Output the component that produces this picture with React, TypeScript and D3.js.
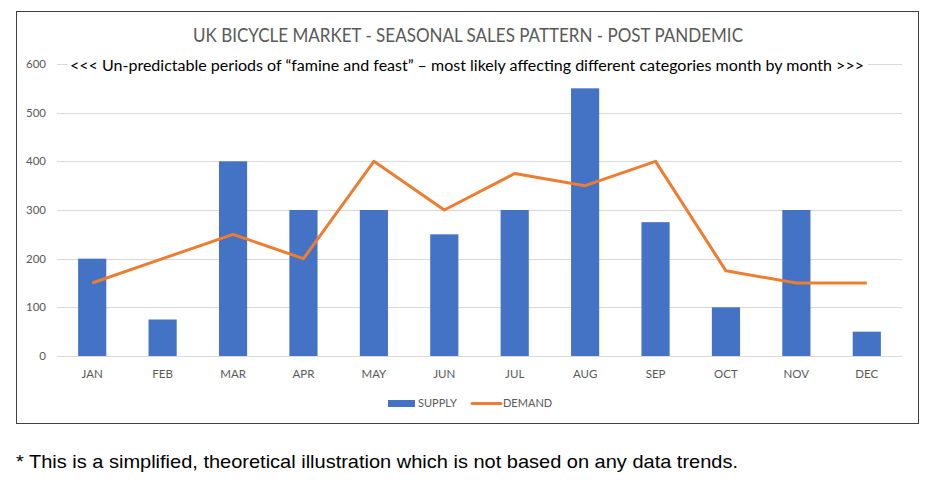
import React, { useRef, useEffect } from 'react';
import * as d3 from 'd3';

const months = ['JAN', 'FEB', 'MAR', 'APR', 'MAY', 'JUN', 'JUL', 'AUG', 'SEP', 'OCT', 'NOV', 'DEC'];
const supply = [200, 75, 400, 300, 300, 250, 300, 550, 275, 100, 300, 50];
const demand = [150, 200, 250, 200, 400, 300, 375, 350, 400, 175, 150, 150];
const yTicks = [0, 100, 200, 300, 400, 500, 600];

const title = 'UK BICYCLE MARKET - SEASONAL SALES PATTERN - POST PANDEMIC';
const subtitle = '<<< Un-predictable periods of \u201cfamine and feast\u201d \u2013 most likely affecting different categories month by month >>>';
const footnote = '* This is a simplified, theoretical illustration which is not based on any data trends.';

const W = 940;
const H = 480;
const font = 'Lato, "Open Sans", sans-serif';

const App: React.FC = () => {
  const svgRef = useRef<SVGSVGElement>(null);

  useEffect(() => {
    if (!svgRef.current) return;
    const svg = d3.select(svgRef.current);
    svg.selectAll('*').remove();

    const plot = { left: 57, right: 902, top: 64, bottom: 356 };

    // chart frame
    svg.append('rect')
      .attr('x', 16.5).attr('y', 11.5)
      .attr('width', 902).attr('height', 412)
      .attr('fill', '#fff').attr('stroke', '#404040').attr('stroke-width', 1);

    const x = d3.scaleBand<string>()
      .domain(months)
      .range([plot.left, plot.right])
      .paddingInner(0.6)
      .paddingOuter(0.3);

    const y = d3.scaleLinear().domain([0, 600]).range([plot.bottom, plot.top]);

    // gridlines
    svg.append('g')
      .selectAll('line')
      .data(yTicks)
      .join('line')
      .attr('x1', plot.left).attr('x2', plot.right)
      .attr('y1', d => Math.round(y(d)) + 0.5).attr('y2', d => Math.round(y(d)) + 0.5)
      .attr('stroke', '#d9d9d9').attr('stroke-width', 1);

    // y labels
    svg.append('g')
      .selectAll('text')
      .data(yTicks)
      .join('text')
      .attr('x', 46).attr('y', d => y(d))
      .attr('dy', '0.35em')
      .attr('text-anchor', 'end')
      .style('font-family', font).style('font-size', '11.5px').attr('fill', '#595959')
      .text(d => d);

    // bars
    svg.append('g')
      .selectAll('rect')
      .data(supply)
      .join('rect')
      .attr('x', (_, i) => x(months[i])!)
      .attr('y', d => y(d))
      .attr('width', x.bandwidth())
      .attr('height', d => y(0) - y(d))
      .attr('fill', '#4472c4');

    // demand line
    const line = d3.line<number>()
      .x((_, i) => x(months[i])! + x.bandwidth() / 2)
      .y(d => y(d));

    svg.append('path')
      .datum(demand)
      .attr('fill', 'none')
      .attr('stroke', '#ed7d31')
      .attr('stroke-width', 3)
      .attr('stroke-linejoin', 'round')
      .attr('d', line);

    // x labels
    svg.append('g')
      .selectAll('text')
      .data(months)
      .join('text')
      .attr('x', d => x(d)! + x.bandwidth() / 2)
      .attr('y', 378)
      .attr('text-anchor', 'middle')
      .style('font-family', font).style('font-size', '11.5px').attr('fill', '#595959')
      .text(d => d);

    // title
    svg.append('text')
      .attr('x', 468).attr('y', 42)
      .attr('text-anchor', 'middle')
      .attr('textLength', 550).attr('lengthAdjust', 'spacingAndGlyphs')
      .style('font-family', font).style('font-size', '18.5px').attr('fill', '#595959')
      .text(title);

    // subtitle on white backing
    svg.append('rect')
      .attr('x', 68).attr('y', 57).attr('width', 800).attr('height', 18)
      .attr('fill', '#fff');
    svg.append('text')
      .attr('x', 467).attr('y', 71)
      .attr('text-anchor', 'middle')
      .attr('textLength', 794).attr('lengthAdjust', 'spacingAndGlyphs')
      .style('font-family', font).style('font-size', '15.5px').attr('fill', '#000')
      .text(subtitle);

    // legend
    const legend = svg.append('g').attr('transform', 'translate(388, 403)');
    legend.append('rect')
      .attr('x', 0).attr('y', -3).attr('width', 27).attr('height', 7)
      .attr('fill', '#4472c4');
    legend.append('text')
      .attr('x', 30).attr('y', 0).attr('dy', '0.35em')
      .style('font-family', font).style('font-size', '11px').attr('fill', '#595959')
      .text('SUPPLY');
    legend.append('line')
      .attr('x1', 84).attr('x2', 113).attr('y1', 0.5).attr('y2', 0.5)
      .attr('stroke', '#ed7d31').attr('stroke-width', 3).attr('stroke-linecap', 'round');
    legend.append('text')
      .attr('x', 115).attr('y', 0).attr('dy', '0.35em')
      .style('font-family', font).style('font-size', '11px').attr('fill', '#595959')
      .text('DEMAND');

    // footnote
    svg.append('text')
      .attr('x', 16).attr('y', 468)
      .attr('textLength', 722).attr('lengthAdjust', 'spacingAndGlyphs')
      .style('font-family', '"Liberation Sans", Arial, sans-serif').style('font-size', '19px').attr('fill', '#000')
      .text(footnote);
  }, []);

  return (
    <svg
      ref={svgRef}
      width={W}
      height={H}
      style={{ position: 'absolute', left: 0, top: 0, background: '#fff' }}
    />
  );
};

export default App;
